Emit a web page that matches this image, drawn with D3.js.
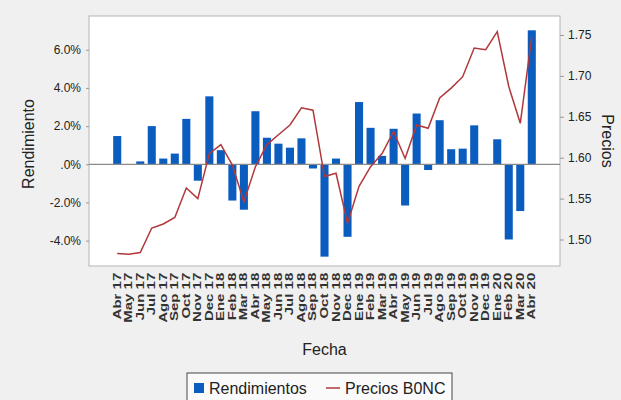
<!DOCTYPE html>
<html>
<head>
<meta charset="utf-8">
<script src="https://cdn.jsdelivr.net/npm/d3@7"></script>
<style>
  body { margin:0; background:#f0f0f0; }
  svg { display:block; font-family:"Liberation Sans", Arial, sans-serif; }
</style>
</head>
<body>
<div id="chart"></div>
<script>
const months = ["Abr 17","May 17","Jun 17","Jul 17","Ago 17","Sep 17","Oct 17","Nov 17","Dec 17",
  "Ene 18","Feb 18","Mar 18","Abr 18","May 18","Jun 18","Jul 18","Ago 18","Sep 18","Oct 18","Nov 18","Dec 18",
  "Ene 19","Feb 19","Mar 19","Abr 19","May 19","Jun 19","Jul 19","Ago 19","Sep 19","Oct 19","Nov 19","Dec 19",
  "Ene 20","Feb 20","Mar 20","Abr 20"];
// rendimientos in %
const rendimientos = [1.48,0.0,0.15,2.0,0.3,0.56,2.38,-0.86,3.56,
  0.74,-1.9,-2.38,2.78,1.39,1.08,0.87,1.36,-0.22,-4.84,0.3,-3.8,
  3.26,1.91,0.44,1.86,-2.16,2.66,-0.3,2.31,0.79,0.82,2.04,-0.04,
  1.31,-3.94,-2.45,7.02];
const precios = [1.483,1.482,1.484,1.514,1.519,1.527,1.563,1.550,1.605,
  1.616,1.591,1.546,1.589,1.616,1.628,1.640,1.661,1.658,1.577,1.581,1.520,
  1.565,1.589,1.605,1.632,1.599,1.640,1.636,1.673,1.685,1.699,1.734,1.732,
  1.754,1.687,1.642,1.748];
const leftTicks = [-4,-2,0,2,4,6];
const leftTickLabels = ["-4.0%","-2.0%",".0%","2.0%","4.0%","6.0%"];
const rightTicks = [1.50,1.55,1.60,1.65,1.70,1.75];

const W = 621, H = 400;
const plot = {left:89, right:560, top:16, bottom:266};

const svg = d3.select("#chart").append("svg").attr("width",W).attr("height",H);
svg.append("rect").attr("width",W).attr("height",H).attr("fill","#f0f0f0");

svg.append("rect").attr("x",plot.left).attr("y",plot.top)
  .attr("width",plot.right-plot.left).attr("height",plot.bottom-plot.top)
  .attr("fill","#fff").attr("stroke","#b4b4b4");

const x = d3.scaleBand().domain(months).range([plot.left,plot.right]).paddingInner(0.3).paddingOuter(2.1);
const yL = d3.scaleLinear().domain([-5.33,7.77]).range([plot.bottom,plot.top]);
const yR = d3.scaleLinear().domain([1.4676,1.7732]).range([plot.bottom,plot.top]);

// bars
svg.append("g").selectAll("rect").data(months).join("rect")
  .attr("x",d=>x(d)).attr("width",x.bandwidth())
  .attr("y",(d,i)=>yL(Math.max(0,rendimientos[i])))
  .attr("height",(d,i)=>Math.abs(yL(rendimientos[i])-yL(0)))
  .attr("fill","#0b5cbf");

// zero line
svg.append("line").attr("x1",plot.left).attr("x2",plot.right)
  .attr("y1",yL(0)).attr("y2",yL(0)).attr("stroke","#8a8a8a").attr("stroke-width",1.2);

// price line
const line = d3.line().x((d,i)=>x(months[i])+x.bandwidth()/2).y(d=>yR(d));
svg.append("path").datum(precios).attr("d",line)
  .attr("fill","none").attr("stroke","#b0383c").attr("stroke-width",1.5);

// left axis
const axL = svg.append("g").attr("transform",`translate(${plot.left},0)`)
  .call(d3.axisLeft(yL).tickValues(leftTicks).tickSize(3).tickPadding(5)
    .tickFormat((d,i)=>leftTickLabels[i]));
axL.select(".domain").remove();
axL.selectAll("line").attr("stroke","#999");
axL.selectAll("text").attr("font-size",12).attr("fill","#222");

// right axis
const axR = svg.append("g").attr("transform",`translate(${plot.right},0)`)
  .call(d3.axisRight(yR).tickValues(rightTicks).tickSize(4).tickPadding(4).tickFormat(d3.format(".2f")));
axR.select(".domain").remove();
axR.selectAll("line").attr("stroke","#999");
axR.selectAll("text").attr("font-size",12).attr("fill","#222");

// x axis labels (stretched along their length like the source)
const axX = svg.append("g").attr("transform",`translate(0,${plot.bottom})`)
  .call(d3.axisBottom(x).tickSize(0).tickPadding(0));
axX.select(".domain").remove();
axX.selectAll("text")
  .attr("font-size",10).attr("font-weight","bold").attr("fill","#333")
  .attr("transform","rotate(-90) scale(1.5,1)").attr("text-anchor","end")
  .attr("dx","-4.5").attr("dy","0.35em").attr("y",0).attr("x",0);

// axis titles
svg.append("text").attr("transform",`translate(34,${(plot.top+plot.bottom)/2+3}) rotate(-90)`)
  .attr("text-anchor","middle").attr("font-size",16).attr("fill","#222").text("Rendimiento");
svg.append("text").attr("transform",`translate(602,${(plot.top+plot.bottom)/2}) rotate(90)`)
  .attr("text-anchor","middle").attr("font-size",16).attr("fill","#222").text("Precios");
svg.append("text").attr("x",(plot.left+plot.right)/2).attr("y",355)
  .attr("text-anchor","middle").attr("font-size",16).attr("fill","#222").text("Fecha");

// legend
const lg = svg.append("g");
lg.append("rect").attr("x",187).attr("y",373).attr("width",265).attr("height",40)
  .attr("fill","#fafafa").attr("stroke","#444");
lg.append("rect").attr("x",194).attr("y",383).attr("width",10).attr("height",10).attr("fill","#0b5cbf");
lg.append("text").attr("x",209).attr("y",394).attr("font-size",16).attr("fill","#222").text("Rendimientos");
lg.append("line").attr("x1",326).attr("x2",340).attr("y1",388).attr("y2",388)
  .attr("stroke","#b0383c").attr("stroke-width",1.5);
lg.append("text").attr("x",345).attr("y",394).attr("font-size",16).attr("fill","#222").text("Precios B0NC");
</script>
</body>
</html>
